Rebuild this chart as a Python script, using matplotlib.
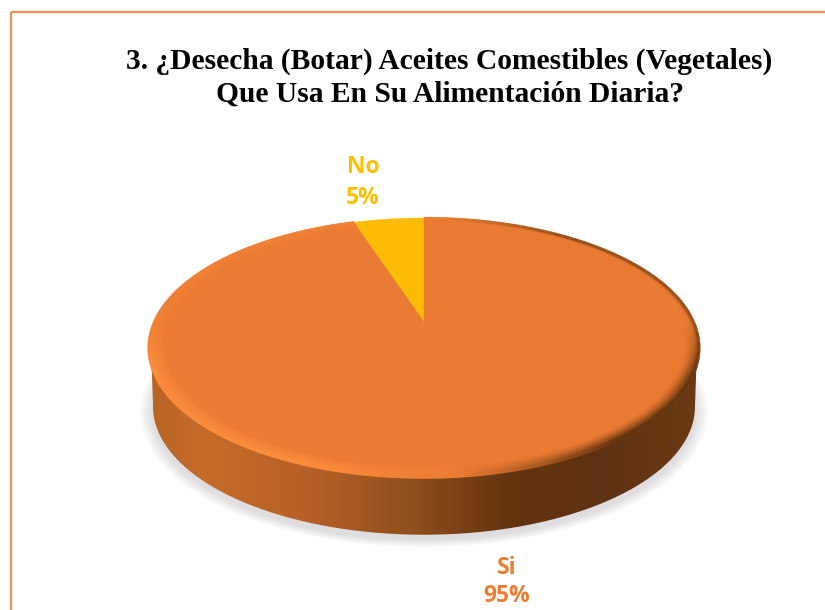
import matplotlib
matplotlib.use("Agg")
import matplotlib.pyplot as plt
import numpy as np
from matplotlib.collections import LineCollection
from matplotlib.colors import LinearSegmentedColormap, to_rgb
from matplotlib.patches import PathPatch, Polygon, Rectangle
from matplotlib.path import Path

title_lines = ["3. ¿Desecha (Botar) Aceites Comestibles (Vegetales)",
               "Que Usa En Su Alimentación Diaria?"]
categories = ["No", "Si"]
shares = [5, 95]
colors = ["#FCBC05", "#EA7B32"]

W, H = 825, 610
CX = 424


def project(theta, r=1.0, a=270.4, b=124.8, y0=322, k=0.2):
    """Disc coordinates to pixels, with the back of the disc further away."""
    u, v = r * np.cos(theta), r * np.sin(theta)
    w = 1 + k * v
    return CX + a * u / w, y0 - b * v / w


def lower_rim(theta):
    return project(theta, a=265.5, b=123, y0=381)


def blend(c1, c2, t):
    c1, c2 = np.array(to_rgb(c1)), np.array(to_rgb(c2))
    return c1 + (c2 - c1) * t


fig = plt.figure(figsize=(W / 100, H / 100), dpi=100)
ax = fig.add_axes([0, 0, 1, 1])
ax.set_xlim(0, W)
ax.set_ylim(H, 0)
ax.axis("off")

# card frame, running off the right and bottom edges
ax.add_patch(Rectangle((10.5, 11.5), 900, 700, fill=False, ec="#F4914F", lw=1.6))

# soft shadow under the disc
t = np.linspace(0, 2 * np.pi, 361)
for grow in np.linspace(1.05, 1.0, 12):
    sx, sy = lower_rim(t)
    ax.add_patch(Polygon(np.c_[CX + (sx - CX) * grow, 385 + (sy - 385) * grow + 5],
                         fc="#808088", ec="none", alpha=0.02))

# side wall, lit from the left
t_front = np.linspace(np.pi * 1.06, np.pi * 1.94, 240)
xt, yt = project(t_front, r=0.99)
xb, yb = lower_rim(t_front)
side = np.r_[np.c_[xt, yt], np.c_[xb, yb][::-1]]
wall = LinearSegmentedColormap.from_list("wall", [
    (0.0, "#B86425"), (0.10, "#C56C29"), (0.30, "#B56026"), (0.48, "#8F4E1D"),
    (0.65, "#65340F"), (0.82, "#5E3212"), (1.0, "#6B3A14"),
])
img = ax.imshow(np.linspace(0, 1, 300)[None, :], cmap=wall, aspect="auto",
                extent=[148, 700, 540, 340], zorder=2)
img.set_clip_path(PathPatch(Path(side), transform=ax.transData))
ax.set_xlim(0, W)
ax.set_ylim(H, 0)

# top face, one polygon per share
start = np.pi / 2
for value, color in zip(shares, colors):
    sweep = 2 * np.pi * value / sum(shares)
    arc = np.linspace(start, start + sweep, 400)
    px, py = project(arc)
    tip = project(0.0, r=0.0)
    ax.add_patch(Polygon(np.r_[[tip], np.c_[px, py]], fc=color, ec=color, lw=0.3, zorder=3))
    start += sweep

# bevel around the outer edge of the 95% slice
yellow_end = np.pi / 2 + 2 * np.pi * shares[0] / sum(shares)
t_rim = np.linspace(yellow_end, np.pi / 2 + 2 * np.pi, 700)
mid = t_rim[:-1]
front = np.clip(-np.sin(mid), 0, 1)
across = (np.cos(mid) + 1) / 2
light = np.clip((0.56 - across) / 0.22, 0, 1) * np.clip(front * 2.5 + 0.3, 0, 1)
dark = np.clip((across - 0.55) / 0.25, 0, 1)
radii = np.linspace(0.997, 0.945, 14)
for r in radii[::-1]:
    falloff = np.clip((r - 0.945) / 0.05, 0, 1)
    rx, ry = project(t_rim, r=r)
    pts = np.c_[rx, ry]
    segs = np.stack([pts[:-1], pts[1:]], axis=1)
    # on the far side only the outermost rings darken
    reach = np.clip(front * 2.5, 0, 1) * falloff ** 1.4 + (1 - np.clip(front * 2.5, 0, 1)) * 0.6 * falloff ** 10
    seg_colors = [blend(blend(colors[1], "#FA8C3C", lt * falloff ** 0.6),
                        "#63340F", dk * rc) for lt, dk, rc in zip(light, dark, reach)]
    ax.add_collection(LineCollection(segs, colors=seg_colors, lw=2.0, zorder=4))

# title and data labels
for line, y in zip(title_lines, [68.5, 101.5]):
    ax.text(449.5, y, line, ha="center", va="baseline", family="Liberation Serif",
            weight="bold", fontsize=21.25, color="black")
label_pos = [(363, 167, 198), (507, 568, 596)]
label_colors = ["#FFC000", "#ED7D31"]
for name, value, (x, y1, y2), color in zip(categories, shares, label_pos, label_colors):
    ax.text(x, y1, name, ha="center", va="center", family="Open Sans",
            weight="bold", fontsize=16.5, color=color)
    ax.text(x, y2, f"{value}%", ha="center", va="center", family="Open Sans",
            weight="bold", fontsize=16.5, color=color)

fig.savefig("out.png", dpi=100)
